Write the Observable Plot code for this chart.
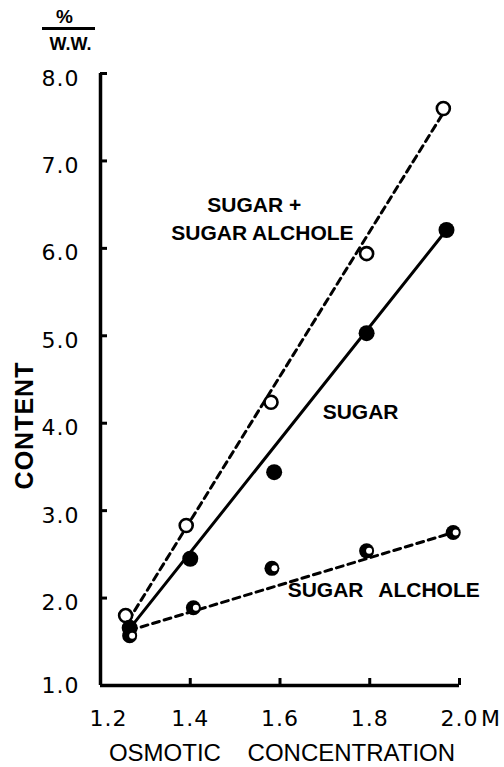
<!DOCTYPE html>
<html>
<head>
<meta charset="utf-8">
<script src="https://cdn.jsdelivr.net/npm/d3@7"></script>
<script src="https://cdn.jsdelivr.net/npm/@observablehq/plot@0.6"></script>
<style>
  html, body { margin: 0; padding: 0; background: #fff; }
  #wrap { position: relative; width: 504px; height: 767px; }
  #bar { position: absolute; left: 42px; top: 27px; width: 53px; height: 2.5px; background: #000; }
</style>
</head>
<body>
<div id="wrap"><div id="bar"></div></div>
<script>
// ---- data ----
const xTicks = [1.2, 1.4, 1.6, 1.8, 2.0];
const yTicks = [1, 2, 3, 4, 5, 6, 7, 8];
const xUnit = "M";
const xTitle = "OSMOTIC CONCENTRATION";
const yTitle = "CONTENT";
const unitTop = "%";
const unitBottom = "W.W.";

// sugar + sugar alchole (open circles)
const concTotal = [1.256, 1.391, 1.580, 1.793, 1.964];
const total     = [1.80, 2.83, 4.24, 5.94, 7.60];
// sugar (filled circles)
const concSugar = [1.265, 1.400, 1.587, 1.793, 1.971];
const sugar     = [1.66, 2.45, 3.44, 5.03, 6.21];
// sugar alchole (half-filled circles)
const concAlc   = [1.265, 1.407, 1.582, 1.793, 1.986];
const alcohol   = [1.57, 1.89, 2.34, 2.54, 2.75];

// straight lines drawn through each series (end points)
const fitTotalX = [1.262, 1.964], fitTotalY = [1.74, 7.55];
const fitSugarX = [1.265, 1.971], fitSugarY = [1.65, 6.21];
const fitAlcX   = [1.265, 1.986], fitAlcY   = [1.63, 2.75];

const labelTotal1 = "SUGAR +";
const labelTotal2 = "SUGAR ALCHOLE";
const labelSugar = "SUGAR";
const labelAlc1 = "SUGAR";
const labelAlc2 = "ALCHOLE";

const pts = (xs, ys) => xs.map((x, i) => ({x, y: ys[i]}));

const bold = "Liberation Sans";
const dv = "DejaVu Sans";
const fmt = d3.format(".1f");
const chart = Plot.plot({
  width: 504,
  height: 767,
  marginLeft: 100,
  marginRight: 45,
  marginTop: 73,
  marginBottom: 82,
  x: {domain: [1.2, 2.0], axis: null},
  y: {domain: [1, 8], axis: null},
  style: {fontFamily: "'DejaVu Sans'", fontSize: "22px", color: "#000", background: "#fff", overflow: "visible"},
  marks: [
    // axis lines and inward ticks
    Plot.ruleX([xTicks[0]], {y1: yTicks[0], y2: yTicks[yTicks.length - 1], strokeWidth: 3.5}),
    Plot.ruleY([yTicks[0]], {x1: xTicks[0], x2: xTicks[xTicks.length - 1], strokeWidth: 3.5}),
    Plot.tickY(yTicks.slice(1), {y: d => d, insetRight: 352, strokeWidth: 3}),
    Plot.tickX(xTicks.slice(1), {x: d => d, insetTop: 605, strokeWidth: 3}),
    // tick labels
    Plot.axisY(yTicks.slice(1), {tickSize: 0, tickPadding: 21, dy: 5, fontSize: 22, fontFamily: dv, tickFormat: fmt, label: null}),
    Plot.axisY([yTicks[0]], {tickSize: 0, tickPadding: 21, dy: 0, fontSize: 22, fontFamily: dv, tickFormat: fmt, label: null}),
    Plot.axisX(xTicks.slice(1), {tickSize: 0, tickPadding: 25, fontSize: 22, fontFamily: dv, tickFormat: fmt, label: null}),
    Plot.axisX([xTicks[0]], {tickSize: 0, tickPadding: 25, dx: 8, fontSize: 22, fontFamily: dv, tickFormat: fmt, label: null}),
    Plot.text([xUnit], {x: () => xTicks[xTicks.length - 1], y: () => yTicks[0], dx: 31, dy: 33, fontSize: 22, fontFamily: dv, text: d => d}),
    Plot.text([xTitle], {frameAnchor: "bottom", lineAnchor: "middle", textAnchor: "middle", dy: 68, dx: 2, fontSize: 24, fontFamily: bold, text: d => d}),
    Plot.text([yTitle], {frameAnchor: "left", lineAnchor: "middle", textAnchor: "middle", rotate: -90, dx: -76, dy: 46, fontSize: 25, fontWeight: "bold", fontFamily: bold, text: d => d}),
    Plot.text([unitTop], {frameAnchor: "top-left", textAnchor: "middle", lineAnchor: "middle", dx: -36, dy: -57, fontSize: 19, fontWeight: "bold", fontFamily: bold, text: d => d}),
    Plot.text([unitBottom], {frameAnchor: "top-left", textAnchor: "middle", lineAnchor: "middle", dx: -30, dy: -29, fontSize: 18, fontWeight: "bold", fontFamily: bold, text: d => d}),

    // lines
    Plot.line(pts(fitTotalX, fitTotalY), {x: "x", y: "y", strokeWidth: 3, strokeDasharray: "7,5"}),
    Plot.line(pts(fitSugarX, fitSugarY), {x: "x", y: "y", strokeWidth: 3}),
    Plot.line(pts(fitAlcX, fitAlcY), {x: "x", y: "y", strokeWidth: 3, strokeDasharray: "7,5"}),

    // points
    Plot.dot(pts(concTotal, total), {x: "x", y: "y", r: 6.5, fill: "#fff", stroke: "#000", strokeWidth: 2.6}),
    Plot.dot(pts(concSugar, sugar), {x: "x", y: "y", r: 8, fill: "#000"}),
    Plot.dot(pts(concAlc, alcohol), {x: "x", y: "y", r: 7.5, fill: "#000"}),
    Plot.dot(pts(concAlc, alcohol), {x: "x", y: "y", r: 3, fill: "#fff", dx: 2.5}),

    // annotations
    Plot.text([labelTotal1], {x: () => 1.438, y: () => 6.49, textAnchor: "start", fontSize: 21, fontWeight: "bold", fontFamily: bold, text: d => d}),
    Plot.text([labelTotal2], {x: () => 1.764, y: () => 6.17, textAnchor: "end", fontSize: 21, fontWeight: "bold", fontFamily: bold, text: d => d}),
    Plot.text([labelSugar], {x: () => 1.695, y: () => 4.12, textAnchor: "start", fontSize: 21, fontWeight: "bold", fontFamily: bold, text: d => d}),
    Plot.text([labelAlc1], {x: () => 1.617, y: () => 2.09, textAnchor: "start", fontSize: 21, fontWeight: "bold", fontFamily: bold, text: d => d}),
    Plot.text([labelAlc2], {x: () => 1.819, y: () => 2.09, textAnchor: "start", fontSize: 21, fontWeight: "bold", fontFamily: bold, text: d => d})
  ]
});
d3.select(chart).selectAll('g[aria-label="y-axis tick label"], g[aria-label="x-axis tick label"]').style("letter-spacing", "1px");
d3.select(chart).selectAll("text").filter(function () { return this.textContent === xTitle; }).style("word-spacing", "20px");
d3.select(chart).selectAll("text").filter(function () { return this.textContent === yTitle; }).style("letter-spacing", "1px");
document.getElementById("wrap").prepend(chart);
</script>
</body>
</html>
